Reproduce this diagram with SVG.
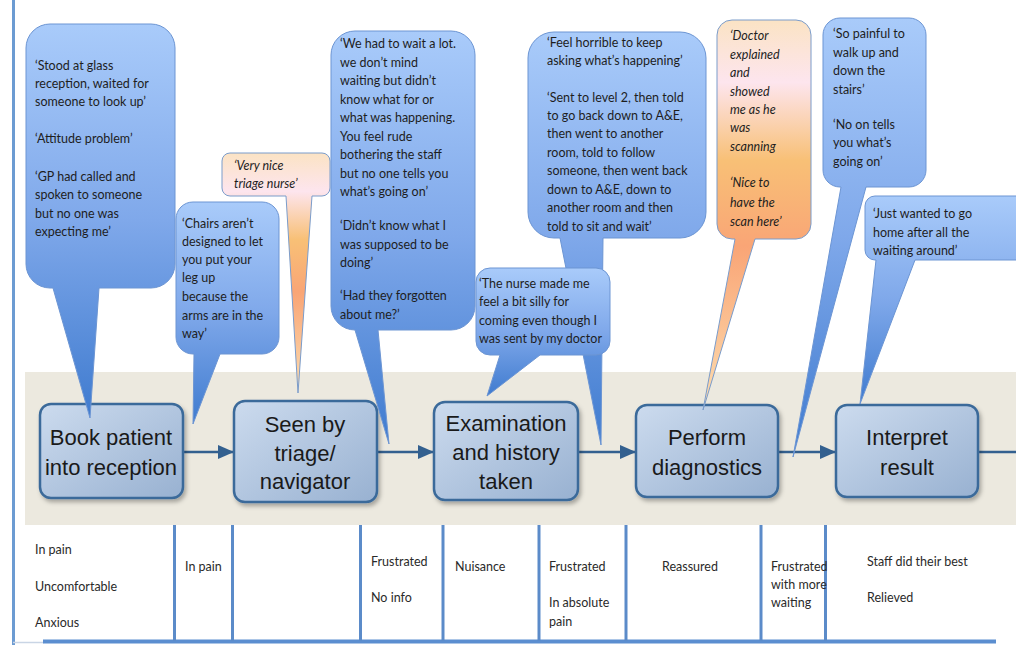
<svg xmlns="http://www.w3.org/2000/svg" width="1016" height="645" viewBox="0 0 1016 645">
  <defs>
    <linearGradient id="gBlue" x1="0" y1="0" x2="0" y2="1">
      <stop offset="0" stop-color="#A9CBFA"/>
      <stop offset="0.5" stop-color="#7FA8EA"/>
      <stop offset="1" stop-color="#3F7BCF"/>
    </linearGradient>
    <linearGradient id="gPeach" x1="0" y1="0" x2="0" y2="1">
      <stop offset="0" stop-color="#FBE3C4"/>
      <stop offset="0.16" stop-color="#FDE5EE"/>
      <stop offset="0.36" stop-color="#F8C076"/>
      <stop offset="0.58" stop-color="#F9A576"/>
      <stop offset="1" stop-color="#FDDDB0"/>
    </linearGradient>
    <linearGradient id="gBox" x1="0" y1="0" x2="1" y2="1">
      <stop offset="0" stop-color="#CCDBEE"/>
      <stop offset="1" stop-color="#98B1D1"/>
    </linearGradient>
    <filter id="shadow" x="-10%" y="-10%" width="130%" height="130%">
      <feDropShadow dx="2" dy="3" stdDeviation="2" flood-color="#000" flood-opacity="0.3"/>
    </filter>
    <marker id="arrow" markerUnits="userSpaceOnUse" markerWidth="16" markerHeight="16" refX="16" refY="8" orient="auto">
      <path d="M0,1 L16,8 L0,15 Z" fill="#33608F"/>
    </marker>
    <style>
      .box { fill: url(#gBox); stroke: #3B6A9A; stroke-width: 2.5; filter: url(#shadow); }
      .boxText { font-family: "Liberation Sans", Arial, sans-serif; font-size: 22px; fill: #1A1A1A; text-anchor: middle; }
      .blue { fill: url(#gBlue); stroke: #6C95D3; stroke-width: 1; }
      .peach { fill: url(#gPeach); stroke: #7A9CCB; stroke-width: 1; }
      .quote { font-family: Lato, "Open Sans", sans-serif; font-size: 12.5px; fill: #1E1E1E; }
      .ital { font-style: italic; }
      .cell { font-family: Lato, "Open Sans", sans-serif; font-size: 12.5px; fill: #2A2A2A; }
      .flow { stroke: #33608F; stroke-width: 2.5; fill: none; }
      .rule { stroke: #5B8BC9; stroke-width: 3; }
    </style>
  </defs>

  <rect width="1016" height="645" fill="#FFFFFF"/>

  <!-- frame -->
  <line x1="13.5" y1="0" x2="13.5" y2="645" stroke="#6C9BD2" stroke-width="3"/>
  <line x1="13" y1="642.5" x2="44" y2="642.5" stroke="#C9D5E5" stroke-width="1.5"/>
  <line x1="43" y1="641.5" x2="996" y2="641.5" stroke="#5B8ED0" stroke-width="4"/>

  <!-- process band -->
  <rect x="25" y="372" width="991" height="153" fill="#ECE9DF"/>

  <!-- connectors -->
  <g id="connectors">
    <line class="flow" x1="183" y1="452" x2="234" y2="452" marker-end="url(#arrow)"/>
    <line class="flow" x1="377" y1="452" x2="434" y2="452" marker-end="url(#arrow)"/>
    <line class="flow" x1="578" y1="452" x2="636" y2="452" marker-end="url(#arrow)"/>
    <line class="flow" x1="778" y1="452" x2="836" y2="452" marker-end="url(#arrow)"/>
    <line class="flow" x1="978" y1="452" x2="1016" y2="452"/>
  </g>

  <!-- process steps -->
  <g id="step-reception">
    <rect class="box" x="40" y="404" width="143" height="94" rx="11"/>
    <text class="boxText" x="111" y="445">Book patient</text>
    <text class="boxText" x="111" y="475">into reception</text>
  </g>
  <g id="step-triage">
    <rect class="box" x="234" y="401" width="143" height="101" rx="11"/>
    <text class="boxText" x="305" y="432">Seen by</text>
    <text class="boxText" x="305" y="461">triage/</text>
    <text class="boxText" x="305" y="489">navigator</text>
  </g>
  <g id="step-examination">
    <rect class="box" x="434" y="402" width="144" height="98" rx="11"/>
    <text class="boxText" x="506" y="431">Examination</text>
    <text class="boxText" x="506" y="460">and history</text>
    <text class="boxText" x="506" y="489">taken</text>
  </g>
  <g id="step-diagnostics">
    <rect class="box" x="636" y="405" width="142" height="92" rx="11"/>
    <text class="boxText" x="707" y="445">Perform</text>
    <text class="boxText" x="707" y="475">diagnostics</text>
  </g>
  <g id="step-interpret">
    <rect class="box" x="836" y="405" width="142" height="92" rx="11"/>
    <text class="boxText" x="907" y="445">Interpret</text>
    <text class="boxText" x="907" y="475">result</text>
  </g>

  <!-- patient comments -->
  <g id="comment-reception">
    <path class="blue" d="M50,24 H151 A24 24 0 0 1 175,48 V264 A24 24 0 0 1 151,288 H99 L90,418 L53,288 H50 A24 24 0 0 1 26,264 V48 A24 24 0 0 1 50,24 Z"/>
    <text class="quote" x="35" y="70">‘Stood at glass</text>
    <text class="quote" x="35" y="88">reception, waited for</text>
    <text class="quote" x="35" y="106">someone to look  up’</text>
    <text class="quote" x="35" y="143">‘Attitude problem’</text>
    <text class="quote" x="35" y="181">‘GP had called and</text>
    <text class="quote" x="35" y="199">spoken to someone</text>
    <text class="quote" x="35" y="218">but no one was</text>
    <text class="quote" x="35" y="236">expecting me’</text>
  </g>

  <g id="comment-chairs">
    <path class="blue" d="M193,202 H262 A17 17 0 0 1 279,219 V337 A17 17 0 0 1 262,354 H220 L193,424 L194,354 H193 A17 17 0 0 1 176,337 V219 A17 17 0 0 1 193,202 Z"/>
    <text class="quote" x="182" y="228">‘Chairs aren’t</text>
    <text class="quote" x="182" y="246">designed to let</text>
    <text class="quote" x="182" y="264">you put your</text>
    <text class="quote" x="182" y="282">leg up</text>
    <text class="quote" x="182" y="301">because the</text>
    <text class="quote" x="182" y="320">arms are in the</text>
    <text class="quote" x="182" y="338">way’</text>
  </g>

  <g id="comment-triage-nurse">
    <path class="peach" d="M230,153 H322 A8 8 0 0 1 330,161 V188 A8 8 0 0 1 322,196 H312 L298,393 L286,196 H230 A8 8 0 0 1 222,188 V161 A8 8 0 0 1 230,153 Z"/>
    <text class="quote ital" x="234" y="170">‘Very nice</text>
    <text class="quote ital" x="234" y="188">triage nurse’</text>
  </g>

  <g id="comment-waiting">
    <path class="blue" d="M355,31 H451 A24 24 0 0 1 475,55 V306 A24 24 0 0 1 451,330 H378 L389,444 L355,330 A24 24 0 0 1 331,306 V55 A24 24 0 0 1 355,31 Z"/>
    <text class="quote" x="340" y="48">‘We had to wait a lot.</text>
    <text class="quote" x="340" y="66.5">we don’t mind</text>
    <text class="quote" x="340" y="85">waiting but didn’t</text>
    <text class="quote" x="340" y="103.5">know what for or</text>
    <text class="quote" x="340" y="122">what was happening.</text>
    <text class="quote" x="340" y="140.5">You feel  rude</text>
    <text class="quote" x="340" y="159">bothering the staff</text>
    <text class="quote" x="340" y="177.5">but no one tells you</text>
    <text class="quote" x="340" y="196">what’s going on’</text>
    <text class="quote" x="340" y="230">‘Didn’t know what I</text>
    <text class="quote" x="340" y="248.5">was supposed to be</text>
    <text class="quote" x="340" y="267">doing’</text>
    <text class="quote" x="340" y="300">‘Had they forgotten</text>
    <text class="quote" x="340" y="318.5">about me?’</text>
  </g>

  <g id="comment-directions">
    <path class="blue" d="M554,32 H680 A26 26 0 0 1 706,58 V212 A26 26 0 0 1 680,238 H603 L601,445 L560,238 H554 A26 26 0 0 1 528,212 V58 A26 26 0 0 1 554,32 Z"/>
    <text class="quote" x="547" y="47">‘Feel horrible to keep</text>
    <text class="quote" x="547" y="65">asking what’s happening’</text>
    <text class="quote" x="547" y="102">‘Sent to level 2, then told</text>
    <text class="quote" x="547" y="120">to go back down to A&amp;E,</text>
    <text class="quote" x="547" y="138">then went to another</text>
    <text class="quote" x="547" y="157">room, told to follow</text>
    <text class="quote" x="547" y="175">someone, then  went back</text>
    <text class="quote" x="547" y="194">down to A&amp;E, down to</text>
    <text class="quote" x="547" y="212">another room and then</text>
    <text class="quote" x="547" y="231">told to sit and wait’</text>
  </g>

  <g id="comment-examination">
    <path class="blue" d="M490,268 H596 A14 14 0 0 1 610,282 V341 A14 14 0 0 1 596,355 H540 L487,396 L500,355 H490 A14 14 0 0 1 476,341 V282 A14 14 0 0 1 490,268 Z"/>
    <text class="quote" x="479" y="288">‘The nurse made me</text>
    <text class="quote" x="479" y="306">feel a bit silly for</text>
    <text class="quote" x="479" y="325">coming even though I</text>
    <text class="quote" x="479" y="343">was sent by my doctor</text>
  </g>

  <g id="comment-scan">
    <path class="peach" d="M732,20 H796 A15 15 0 0 1 811,35 V224 A15 15 0 0 1 796,239 H755 L703,410 L735,239 H732 A15 15 0 0 1 717,224 V35 A15 15 0 0 1 732,20 Z"/>
    <text class="quote ital" x="730" y="40">‘Doctor</text>
    <text class="quote ital" x="730" y="59">explained</text>
    <text class="quote ital" x="730" y="77">and</text>
    <text class="quote ital" x="730" y="96">showed</text>
    <text class="quote ital" x="730" y="114">me as he</text>
    <text class="quote ital" x="730" y="132">was</text>
    <text class="quote ital" x="730" y="151">scanning</text>
    <text class="quote ital" x="730" y="187">‘Nice to</text>
    <text class="quote ital" x="730" y="207">have the</text>
    <text class="quote ital" x="730" y="226">scan here’</text>
  </g>

  <g id="comment-stairs">
    <path class="blue" d="M840,18 H909 A17 17 0 0 1 926,35 V170 A17 17 0 0 1 909,187 H866 L793,457 L841,187 H840 A17 17 0 0 1 823,170 V35 A17 17 0 0 1 840,18 Z"/>
    <text class="quote" x="833" y="38">‘So painful to</text>
    <text class="quote" x="833" y="57">walk up and</text>
    <text class="quote" x="833" y="75">down the</text>
    <text class="quote" x="833" y="94">stairs’</text>
    <text class="quote" x="833" y="129">‘No on tells</text>
    <text class="quote" x="833" y="147">you what’s</text>
    <text class="quote" x="833" y="166">going on’</text>
  </g>

  <g id="comment-home">
    <path class="blue" d="M875,196 H1020 A10 10 0 0 1 1030,206 V250 A10 10 0 0 1 1020,260 H915 L860,404 L876,260 H875 A10 10 0 0 1 865,250 V206 A10 10 0 0 1 875,196 Z"/>
    <text class="quote" x="873" y="218">‘Just wanted to go</text>
    <text class="quote" x="873" y="237">home after all the</text>
    <text class="quote" x="873" y="255">waiting around’</text>
  </g>

  <!-- feelings table -->
  <g id="feelings">
    <line class="rule" x1="174.5" y1="525" x2="174.5" y2="641"/>
    <line class="rule" x1="232.5" y1="525" x2="232.5" y2="641"/>
    <line class="rule" x1="360.5" y1="525" x2="360.5" y2="641"/>
    <line class="rule" x1="443" y1="525" x2="443" y2="641"/>
    <line class="rule" x1="539" y1="525" x2="539" y2="641"/>
    <line class="rule" x1="626" y1="525" x2="626" y2="641"/>
    <line class="rule" x1="761" y1="525" x2="761" y2="641"/>
    <line class="rule" x1="825.5" y1="525" x2="825.5" y2="641"/>

    <text class="cell" x="35" y="554">In pain</text>
    <text class="cell" x="35" y="591">Uncomfortable</text>
    <text class="cell" x="35" y="627">Anxious</text>
    <text class="cell" x="185" y="571">In pain</text>
    <text class="cell" x="371" y="566">Frustrated</text>
    <text class="cell" x="371" y="602">No info</text>
    <text class="cell" x="455" y="571">Nuisance</text>
    <text class="cell" x="549" y="571">Frustrated</text>
    <text class="cell" x="549" y="607">In absolute</text>
    <text class="cell" x="549" y="626">pain</text>
    <text class="cell" x="662" y="571">Reassured</text>
    <text class="cell" x="771" y="571">Frustrated</text>
    <text class="cell" x="771" y="589">with more</text>
    <text class="cell" x="771" y="607">waiting</text>
    <text class="cell" x="867" y="566">Staff did their best</text>
    <text class="cell" x="867" y="602">Relieved</text>
  </g>
</svg>
